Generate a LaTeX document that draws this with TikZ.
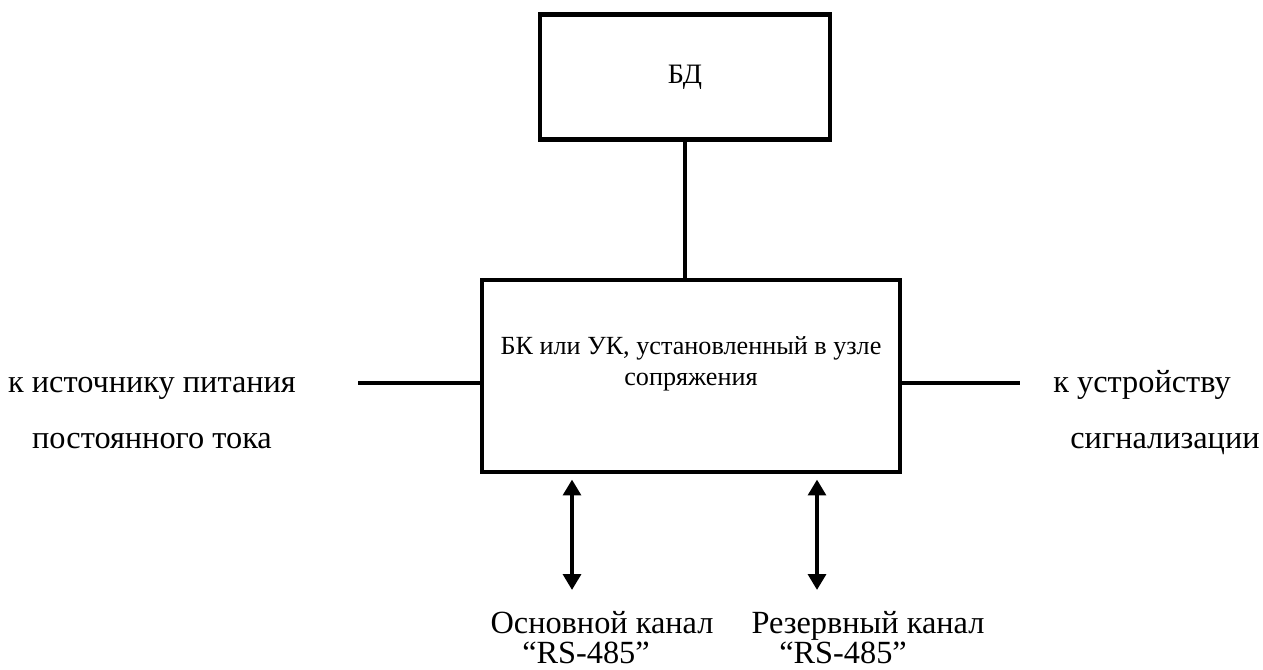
\documentclass[tikz,border=0pt]{standalone}
\usepackage{fontspec}
\setmainfont{Liberation Serif}
\usetikzlibrary{arrows.meta}
\tikzset{
  blk/.style={draw, line width=2.6pt, minimum width=#1},
  lbl/.style={font=\fontsize{18.4}{20}\selectfont, inner sep=0pt, anchor=base},
  wire/.style={line width=2.6pt},
  chan/.style={line width=2.6pt, {Triangle[length=9pt,width=10pt]}-{Triangle[length=9pt,width=10pt]}}
}
\begin{document}
\begin{tikzpicture}[x=0.02cm, y=-0.02cm, line join=miter, line cap=butt]
			\useasboundingbox (0,0) rectangle (1263,669);
			% blocks
			\node[blk=5.8cm, minimum height=2.5cm] (bd) at (685,77) {};
			\node[font=\fontsize{16}{18}\selectfont, inner sep=0pt] (bdtext) at (685,77) {БД};
			\node[blk=8.36cm, minimum height=3.84cm] (main) at (691,376) {};
			\node[font=\fontsize{14.9}{17.6}\selectfont, inner sep=0pt, align=center] (maintext) at (691,364)
				{БК или УК, установленный в узле\\сопряжения};
			% wires
			\coordinate (pwr) at (358,383);
			\coordinate (sig) at (1020,383);
			\coordinate (ch1) at (572,590);
			\coordinate (ch2) at (817,590);
			\draw[wire] (bd.south) -- (bd.south |- main.north);
			\draw[wire] (pwr) -- (main.west |- pwr);
			\draw[wire] (main.east |- sig) -- (sig);
			\draw[chan, shorten <=3pt] (main.south -| ch1) -- (ch1);
			\draw[chan, shorten <=3pt] (main.south -| ch2) -- (ch2);
			% labels
			\foreach \x/\y/\t/\n in {
				152/392/к источнику питания/pwra,
				152/448/постоянного тока/pwrb,
				1142/392/к устройству/siga,
				1165/448/сигнализации/sigb,
				602/633/Основной канал/cha,
				586/663/“RS-485”/chb,
				868/633/Резервный канал/rsa,
				843/663/“RS-485”/rsb}
			{
				\node[lbl] (\n) at (\x,\y) {\t};
			}
		\end{tikzpicture}
\end{document}
